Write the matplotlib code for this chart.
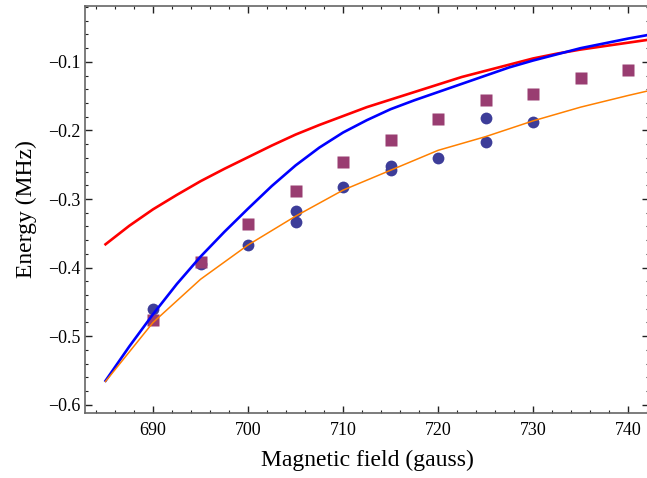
import matplotlib
matplotlib.use("Agg")
import matplotlib.pyplot as plt
from matplotlib.ticker import MultipleLocator

plt.rcParams['font.family'] = ['Liberation Serif', 'DejaVu Serif']

# measured points (gauss, MHz)
circ_B = [690, 695, 700, 705, 705, 710, 715, 715, 720, 725, 725, 730]
circ_E = [-0.461, -0.394, -0.367, -0.317, -0.333, -0.282, -0.252, -0.257, -0.240, -0.182, -0.217, -0.187]

sq_B = [690, 695, 700, 705, 710, 715, 720, 725, 730, 735, 740]
sq_E = [-0.477, -0.392, -0.336, -0.288, -0.246, -0.214, -0.184, -0.156, -0.147, -0.124, -0.112]

# theory curves
curve_B = [685, 687.5, 690, 692.5, 695, 697.5, 700, 702.5, 705, 707.5, 710, 712.5, 715, 717.5,
           720, 722.5, 725, 727.5, 730, 732.5, 735, 737.5, 740, 742]
red_E = [-0.366, -0.339, -0.315, -0.294, -0.274, -0.256, -0.239, -0.222, -0.206, -0.192, -0.179, -0.166,
         -0.155, -0.144, -0.133, -0.122, -0.113, -0.104, -0.095, -0.088, -0.082, -0.077, -0.072, -0.068]
blue_E = [-0.565, -0.515, -0.468, -0.424, -0.384, -0.348, -0.314, -0.281, -0.251, -0.225, -0.203, -0.185,
          -0.169, -0.156, -0.144, -0.132, -0.120, -0.108, -0.098, -0.089, -0.080, -0.073, -0.066, -0.061]

orange_B = [685, 690, 695, 700, 705, 710, 715, 720, 725, 730, 735, 740, 745]
orange_E = [-0.566, -0.480, -0.417, -0.367, -0.325, -0.287, -0.258, -0.229, -0.209, -0.186, -0.166, -0.149, -0.133]

fig = plt.figure(figsize=(6.47, 4.78), dpi=100)
ax = fig.add_axes([85/647, 1-413/478, 564/647, 407/478])

ax.plot(circ_B, circ_E, 'o', color='#3d3d99', ms=8.5, mec='none', zorder=2)
ax.plot(sq_B, sq_E, 's', color='#993d71', ms=8, mec='none', zorder=2)
ax.plot(curve_B, red_E, color='#ff0000', lw=1.9, zorder=3)
ax.plot(curve_B, blue_E, color='#0000ff', lw=1.9, zorder=3)
ax.plot(orange_B, orange_E, color='#ff8000', lw=1.1, zorder=3)

ax.set_xlim(682.84, 742.2)
ax.set_ylim(-0.612, -0.0185)
ax.xaxis.set_major_locator(MultipleLocator(10))
ax.xaxis.set_minor_locator(MultipleLocator(2))
ax.yaxis.set_major_locator(MultipleLocator(0.1))
ax.yaxis.set_minor_locator(MultipleLocator(0.02))
ax.tick_params(which='both', direction='in', top=True, right=True, labelsize=13, color='#222222')
ax.tick_params(which='major', length=5, width=1)
ax.tick_params(which='minor', length=2.5, width=0.8)
ax.tick_params(axis='x', which='major', pad=6.5)
for s in ax.spines.values():
    s.set_color('#666666')
    s.set_linewidth(1.2)

ax.set_xlabel('Magnetic field (gauss)', fontsize=17, labelpad=8)
ax.set_ylabel('Energy (MHz)', fontsize=17, labelpad=8)

fig.savefig('out.png', dpi=100)
